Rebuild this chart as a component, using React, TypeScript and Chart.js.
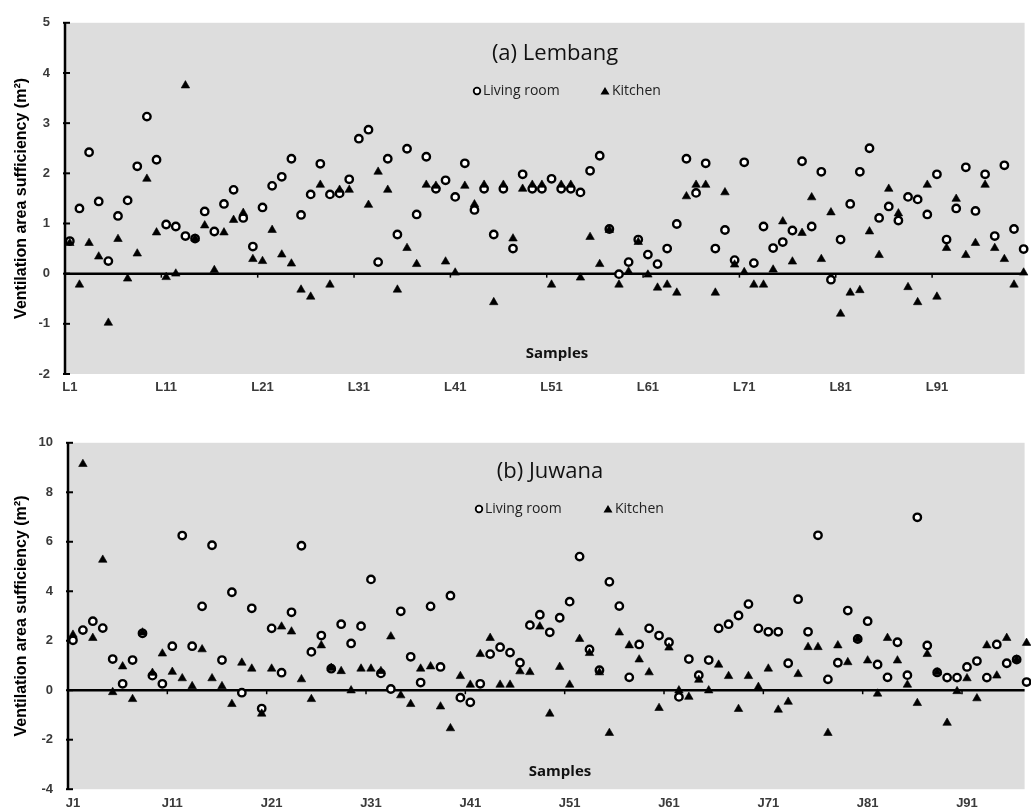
import React, { useEffect, useRef } from 'react';
import { Chart, registerables } from 'chart.js';

Chart.register(...registerables);

// ---------- Data ----------
const tickSamples = [1, 11, 21, 31, 41, 51, 61, 71, 81, 91];
const lembangTickLabels = ['L1', 'L11', 'L21', 'L31', 'L41', 'L51', 'L61', 'L71', 'L81', 'L91'];
const juwanaTickLabels = ['J1', 'J11', 'J21', 'J31', 'J41', 'J51', 'J61', 'J71', 'J81', 'J91'];
const tickBoundaries = [10.5, 20.5, 30.5, 40.5, 50.5, 60.5, 70.5, 80.5, 90.5];

const lembangLiving = [
  0.65, 1.30, 2.42, 1.44, 0.25, 1.15, 1.46, 2.14, 3.13, 2.27,
  0.98, 0.94, 0.75, 0.70, 1.24, 0.84, 1.39, 1.67, 1.11, 0.54,
  1.32, 1.75, 1.93, 2.29, 1.17, 1.58, 2.19, 1.58, 1.60, 1.88,
  2.69, 2.87, 0.23, 2.29, 0.78, 2.49, 1.18, 2.33, 1.69, 1.86,
  1.53, 2.20, 1.27, 1.69, 0.78, 1.69, 0.50, 1.98, 1.69, 1.69,
  1.89, 1.69, 1.69, 1.62, 2.05, 2.35, 0.89, -0.01, 0.23, 0.68,
  0.38, 0.19, 0.50, 0.99, 2.29, 1.61, 2.20, 0.50, 0.87, 0.27,
  2.22, 0.21, 0.94, 0.51, 0.63, 0.86, 2.24, 0.94, 2.03, -0.12,
  0.68, 1.39, 2.03, 2.50, 1.11, 1.34, 1.06, 1.53, 1.48, 1.18,
  1.98, 0.68, 1.30, 2.12, 1.25, 1.98, 0.75, 2.16, 0.89, 0.49,
];
const lembangKitchen = [
  0.61, -0.22, 0.61, 0.34, -0.98, 0.69, -0.10, 0.40, 1.89, 0.82,
  -0.07, 0.00, 3.75, 0.70, 0.96, 0.07, 0.82, 1.07, 1.21, 0.29,
  0.25, 0.87, 0.38, 0.20, -0.32, -0.46, 1.77, -0.22, 1.67, 1.67,
  null, 1.37, 2.03, 1.67, -0.32, 0.51, 0.19, 1.77, 1.75, 0.24,
  0.02, 1.75, 1.38, 1.77, -0.57, 1.77, 0.70, 1.69, 1.77, 1.77,
  -0.22, 1.77, 1.77, -0.08, 0.73, 0.19, 0.87, -0.22, 0.04, 0.63,
  -0.02, -0.28, -0.22, -0.38, 1.54, 1.77, 1.77, -0.38, 1.62, 0.18,
  0.03, -0.22, -0.22, 0.08, 1.04, 0.24, 0.81, 1.52, 0.29, 1.22,
  -0.80, -0.38, -0.33, 0.84, 0.37, 1.69, 1.20, -0.27, -0.57, 1.77,
  -0.46, 0.51, 1.49, 0.37, 0.61, 1.77, 0.51, 0.29, -0.22, 0.02,
];

const juwanaLiving = [
  2.02, 2.43, 2.79, 2.51, 1.26, 0.26, 1.22, 2.30, 0.59, 0.26,
  1.78, 6.25, 1.78, 3.39, 5.86, 1.22, 3.96, -0.10, 3.31, -0.74,
  2.50, 0.71, 3.15, 5.84, 1.55, 2.21, 0.87, 2.67, 1.89, 2.59,
  4.48, 0.68, 0.05, 3.19, 1.35, 0.31, 3.39, 0.94, 3.82, -0.30,
  -0.49, 0.26, 1.46, 1.74, 1.52, 1.11, 2.63, 3.05, 2.34, 2.93,
  3.58, 5.40, 1.65, 0.81, 4.38, 3.40, 0.52, 1.85, 2.50, 2.21,
  1.94, -0.27, 1.26, 0.61, 1.22, 2.50, 2.67, 3.02, 3.48, 2.50,
  2.36, 2.36, 1.09, 3.68, 2.36, 6.26, 0.44, 1.11, 3.22, 2.07,
  2.79, 1.04, 0.52, 1.94, 0.61, 6.99, 1.81, 0.72, 0.51, 0.51,
  0.94, 1.18, 0.51, 1.85, 1.09, 1.24, 0.33,
];
const juwanaKitchen = [
  2.24, 9.14, 2.11, 5.27, -0.08, 0.96, -0.36, 2.33, 0.70, 1.48,
  0.74, 0.48, 0.16, 1.65, 0.48, 0.16, -0.56, 1.11, 0.87, -0.95,
  0.87, 2.57, 2.37, 0.44, -0.36, 1.81, 0.90, 0.77, -0.01, 0.87,
  0.87, 0.77, 2.17, -0.21, -0.56, 0.87, 0.96, -0.66, -1.54, 0.57,
  0.22, 1.46, 2.11, 0.22, 0.22, 0.76, 0.73, 2.57, -0.95, 0.94,
  0.22, 2.07, 1.50, 0.72, -1.73, 2.33, 1.81, 1.24, 0.72, -0.72,
  1.72, -0.01, -0.27, 0.42, -0.01, 1.03, 0.57, -0.76, 0.57, 0.13,
  0.87, -0.79, -0.47, 0.65, 1.74, 1.74, -1.73, 1.81, 1.13, 2.07,
  1.20, -0.14, 2.11, 1.20, 0.22, -0.52, 1.46, 0.72, -1.32, -0.04,
  0.48, -0.33, 1.81, 0.59, 2.11, 1.24, 1.91,
];

const yTitle = 'Ventilation area sufficiency (m\u00B2)';
const legendLiving = 'Living room';
const legendKitchen = 'Kitchen';
const xLabel = 'Samples';

const PLOT_BG = '#DDDDDD';
const AXIS_FONT = '"Liberation Sans", Arial, sans-serif';
const TEXT_FONT = '"Open Sans", "Noto Sans", sans-serif';

const decorPlugin = {
  id: 'panelDecor',
  beforeDraw(chart: any) {
    const { ctx, chartArea: a } = chart;
    ctx.save();
    ctx.fillStyle = '#ffffff';
    ctx.fillRect(0, 0, chart.width, chart.height);
    ctx.fillStyle = PLOT_BG;
    ctx.fillRect(a.left, a.top, a.right - a.left, a.bottom - a.top);
    ctx.restore();
  },
  beforeDatasetsDraw(chart: any) {
    const { ctx, chartArea: a, scales } = chart;
    const x = scales.x;
    const y = scales.y;
    const y0 = y.getPixelForValue(0);
    ctx.save();
    ctx.strokeStyle = '#000';
    ctx.lineWidth = 2.5;
    ctx.beginPath();
    ctx.moveTo(a.left, y0);
    ctx.lineTo(a.right, y0);
    ctx.stroke();
    ctx.beginPath();
    ctx.moveTo(a.left, a.top);
    ctx.lineTo(a.left, a.bottom);
    ctx.stroke();
    ctx.lineWidth = 2;
    y.ticks.forEach((t: any) => {
      const py = y.getPixelForValue(t.value);
      ctx.beginPath();
      ctx.moveTo(a.left - 2, py);
      ctx.lineTo(a.left + 5, py);
      ctx.stroke();
    });
    ctx.lineWidth = 1.5;
    tickBoundaries.forEach((v) => {
      const px = x.getPixelForValue(v);
      ctx.beginPath();
      ctx.moveTo(px, y0);
      ctx.lineTo(px, y0 + 4);
      ctx.stroke();
    });
    ctx.restore();
  },
  afterDraw(chart: any, _args: any, opts: any) {
    const { ctx, chartArea: a } = chart;
    ctx.save();
    // Panel title
    ctx.fillStyle = '#111';
    ctx.font = `22px ${TEXT_FONT}`;
    ctx.textAlign = 'center';
    ctx.textBaseline = 'middle';
    ctx.fillText(opts.title, opts.titleX, opts.titleY);
    // Legend
    ctx.font = `14px ${TEXT_FONT}`;
    ctx.textAlign = 'left';
    ctx.fillStyle = '#222';
    ctx.fillText(legendLiving, opts.livingX + 6, opts.legendY);
    ctx.fillText(legendKitchen, opts.kitchenX + 7, opts.legendY);
    ctx.strokeStyle = '#000';
    ctx.lineWidth = 1.8;
    ctx.fillStyle = '#fff';
    ctx.beginPath();
    ctx.arc(opts.livingX, opts.legendY, 3.3, 0, Math.PI * 2);
    ctx.fill();
    ctx.stroke();
    ctx.fillStyle = '#000';
    ctx.beginPath();
    ctx.moveTo(opts.kitchenX, opts.legendY - 4);
    ctx.lineTo(opts.kitchenX + 4.5, opts.legendY + 3.5);
    ctx.lineTo(opts.kitchenX - 4.5, opts.legendY + 3.5);
    ctx.closePath();
    ctx.fill();
    // Samples label
    ctx.font = `bold 15px ${TEXT_FONT}`;
    ctx.textAlign = 'center';
    ctx.fillStyle = '#111';
    ctx.fillText(xLabel, opts.samplesX, opts.samplesY);
    // Y axis title
    ctx.translate(22, (a.top + a.bottom) / 2);
    ctx.rotate(-Math.PI / 2);
    ctx.font = `bold 16px ${AXIS_FONT}`;
    ctx.fillStyle = '#000';
    ctx.textAlign = 'center';
    ctx.textBaseline = 'middle';
    ctx.fillText(yTitle, 0, 0);
    ctx.restore();
  },
};

type PanelSpec = {
  living: (number | null)[];
  kitchen: (number | null)[];
  tickLabels: string[];
  yMin: number;
  yMax: number;
  yStep: number;
  left: number;
  xMax: number;
  padTop: number;
  xAxisHeight: number;
  decor: any;
};

function makeConfig(p: PanelSpec): any {
  return {
    type: 'scatter',
    data: {
      datasets: [
        {
          label: legendLiving,
          data: p.living.map((v, i) => ({ x: i + 1, y: v })),
          pointStyle: 'circle',
          pointRadius: 3.7,
          pointBorderWidth: 2.4,
          pointBackgroundColor: '#ffffff',
          pointBorderColor: '#000000',
          order: 1,
          clip: false,
        },
        {
          label: legendKitchen,
          data: p.kitchen.map((v, i) => ({ x: i + 1, y: v })),
          pointStyle: 'triangle',
          pointRadius: 4.9,
          pointBorderWidth: 0.6,
          pointBackgroundColor: '#000000',
          pointBorderColor: '#000000',
          order: 0,
          clip: false,
        },
      ],
    },
    options: {
      animation: false,
      responsive: false,
      devicePixelRatio: 1,
      events: [],
      layout: { padding: { top: p.padTop, left: 0, right: 0, bottom: 0 } },
      plugins: {
        legend: { display: false },
        tooltip: { enabled: false },
        title: { display: false },
        panelDecor: p.decor,
      },
      scales: {
        x: {
          type: 'linear',
          position: 'bottom',
          min: 0.5,
          max: p.xMax,
          grid: { display: false, drawTicks: false },
          border: { display: false },
          afterBuildTicks: (s: any) => {
            s.ticks = tickSamples.map((v) => ({ value: v }));
          },
          afterFit: (s: any) => {
            s.height = p.xAxisHeight;
          },
          ticks: {
            autoSkip: false,
            maxRotation: 0,
            minRotation: 0,
            padding: 6,
            color: '#3a3a3a',
            font: { family: AXIS_FONT, size: 13, weight: 'bold' },
            callback: (_v: any, i: number) => p.tickLabels[i] ?? '',
          },
        },
        y: {
          type: 'linear',
          min: p.yMin,
          max: p.yMax,
          grid: { display: false, drawTicks: false },
          border: { display: false },
          afterFit: (s: any) => {
            s.width = p.left;
          },
          ticks: {
            stepSize: p.yStep,
            padding: 15,
            color: '#3a3a3a',
            font: { family: AXIS_FONT, size: 13, weight: 'bold' },
          },
        },
      },
    },
    plugins: [decorPlugin],
  };
}

export default function App() {
  const topRef = useRef<HTMLCanvasElement | null>(null);
  const botRef = useRef<HTMLCanvasElement | null>(null);

  useEffect(() => {
    let cancelled = false;
    const charts: Chart[] = [];
    const build = () => {
      if (cancelled || !topRef.current || !botRef.current) return;
      charts.push(
        new Chart(
          topRef.current,
          makeConfig({
            living: lembangLiving,
            kitchen: lembangKitchen,
            tickLabels: lembangTickLabels,
            yMin: -2,
            yMax: 5,
            yStep: 1,
            left: 65,
            xMax: 100.1,
            padTop: 15,
            xAxisHeight: 26,
            decor: {
              title: '(a) Lembang',
              titleX: 555,
              titleY: 54,
              legendY: 91,
              livingX: 477,
              kitchenX: 605,
              samplesX: 557,
              samplesY: 354,
            },
          })
        )
      );
      charts.push(
        new Chart(
          botRef.current,
          makeConfig({
            living: juwanaLiving,
            kitchen: juwanaKitchen,
            tickLabels: juwanaTickLabels,
            yMin: -4,
            yMax: 10,
            yStep: 2,
            left: 68,
            xMax: 96.8,
            padTop: 14,
            xAxisHeight: 19,
            decor: {
              title: '(b) Juwana',
              titleX: 550,
              titleY: 52,
              legendY: 89,
              livingX: 479,
              kitchenX: 608,
              samplesX: 560,
              samplesY: 352,
            },
          })
        )
      );
    };
    const fonts = (document as any).fonts;
    if (fonts && fonts.load) {
      Promise.all([
        fonts.load(`22px ${TEXT_FONT}`),
        fonts.load(`bold 15px ${TEXT_FONT}`),
        fonts.load(`bold 13px ${AXIS_FONT}`),
      ])
        .catch(() => undefined)
        .then(build);
    } else {
      build();
    }
    return () => {
      cancelled = true;
      charts.forEach((c) => c.destroy());
    };
  }, []);

  return (
    <div
      style={{
        position: 'absolute',
        left: 0,
        top: 0,
        width: 1031,
        height: 812,
        background: '#ffffff',
        overflow: 'hidden',
      }}
    >
      <canvas
        ref={topRef}
        width={1031}
        height={400}
        style={{ position: 'absolute', left: 0, top: 0, display: 'block' }}
      />
      <canvas
        ref={botRef}
        width={1031}
        height={392}
        style={{ position: 'absolute', left: 0, top: 420, display: 'block' }}
      />
    </div>
  );
}
